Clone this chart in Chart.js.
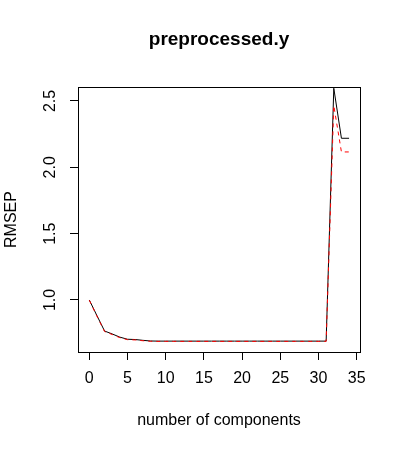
<!DOCTYPE html>
<html><head><meta charset="utf-8">
<script src="https://cdn.jsdelivr.net/npm/chart.js@4"></script>
<style>html,body{margin:0;padding:0;background:#fff}</style>
</head><body>
<canvas id="c" width="400" height="450"></canvas>
<script>
const components = [0,1,2,3,4,5,6,7,8,9,10,11,12,13,14,15,16,17,18,19,20,21,22,23,24,25,26,27,28,29,30,31,32,33,34];
const cvRMSEP = [1.000,0.882,0.766,0.744,0.720,0.704,0.702,0.696,0.691,
  0.690,0.690,0.690,0.690,0.690,0.690,0.690,0.690,0.690,0.690,0.690,0.690,0.690,0.690,0.690,0.690,0.690,0.690,0.690,0.690,0.690,0.690,0.690,
  2.596,2.219,2.219];
const adjCvRMSEP = [0.998,0.878,0.762,0.740,0.716,0.701,0.699,0.693,0.689,
  0.688,0.688,0.688,0.688,0.688,0.688,0.688,0.688,0.688,0.688,0.688,0.688,0.688,0.688,0.688,0.688,0.688,0.688,0.688,0.688,0.688,0.688,0.688,
  2.465,2.116,2.116];
const xTicks = [0,5,10,15,20,25,30,35];
const yTicks = [1.0,1.5,2.0,2.5];
const yTickLabels = ['1.0','1.5','2.0','2.5'];
const titleText = 'preprocessed.y';
const xLabel = 'number of components';
const yLabel = 'RMSEP';

const FONT = "'Liberation Sans', Arial, sans-serif";
Chart.defaults.font.family = FONT;
Chart.defaults.font.size = 16;
Chart.defaults.color = '#000';

const toXY = vals => components.map((c, i) => ({x: c, y: vals[i]}));

const boxAndYLabels = {
  id: 'boxAndYLabels',
  afterDraw(chart) {
    const {ctx, chartArea: a} = chart;
    const al = p => Math.round(p - 0.5) + 0.5;
    ctx.save();
    ctx.strokeStyle = '#000';
    ctx.lineWidth = 1;
    ctx.strokeRect(al(a.left), al(a.top), al(a.right) - al(a.left), al(a.bottom) - al(a.top));
    const ys = chart.scales.y;
    ctx.fillStyle = '#000';
    ctx.font = '16px ' + FONT;
    ctx.textAlign = 'center';
    ctx.textBaseline = 'alphabetic';
    yTicks.forEach((v, i) => {
      const py = ys.getPixelForValue(v);
      ctx.save();
      ctx.translate(a.left - 23, py);
      ctx.rotate(-Math.PI / 2);
      ctx.fillText(yTickLabels[i], 0, 0);
      ctx.restore();
    });
    ctx.restore();
  }
};

new Chart(document.getElementById('c'), {
  type: 'line',
  data: {
    datasets: [
      {label: 'adjCV', data: toXY(adjCvRMSEP), borderColor: '#ff0000', borderWidth: 1, borderDash: [4, 4], pointRadius: 0, tension: 0, fill: false},
      {label: 'CV', data: toXY(cvRMSEP), borderColor: '#000000', borderWidth: 1, pointRadius: 0, tension: 0, fill: false}
    ]
  },
  options: {
    responsive: false,
    animation: false,
    layout: {padding: {left: 0, right: 40, top: 0, bottom: 0}},
    plugins: {
      legend: {display: false},
      tooltip: {enabled: false},
      title: {
        display: true, text: titleText, fullSize: false,
        font: {size: 19, weight: 'bold', family: FONT}, color: '#000',
        padding: {top: 28.7, bottom: 35.5}
      }
    },
    scales: {
      x: {
        type: 'linear', position: 'bottom',
        min: -1.48, max: 35.43,
        afterBuildTicks: s => { s.ticks = xTicks.map(v => ({value: v})); },
        ticks: {padding: 9, maxRotation: 0, autoSkip: false, color: '#000', font: {size: 16}},
        grid: {drawOnChartArea: false, drawTicks: true, tickLength: 8, color: '#000', lineWidth: 1},
        border: {display: false},
        title: {display: true, text: xLabel, color: '#000', font: {size: 16}, padding: {top: 14.2, bottom: 19.4}}
      },
      y: {
        type: 'linear', position: 'left',
        min: 0.608, max: 2.6055,
        afterBuildTicks: s => { s.ticks = yTicks.map(v => ({value: v})); },
        ticks: {display: false},
        grid: {drawOnChartArea: false, drawTicks: true, tickLength: 8, color: '#000', lineWidth: 1},
        border: {display: false},
        title: {display: true, text: yLabel, color: '#000', font: {size: 16}, padding: {top: 2.3, bottom: 48.5}}
      }
    }
  },
  plugins: [boxAndYLabels]
});
</script>
</body></html>
